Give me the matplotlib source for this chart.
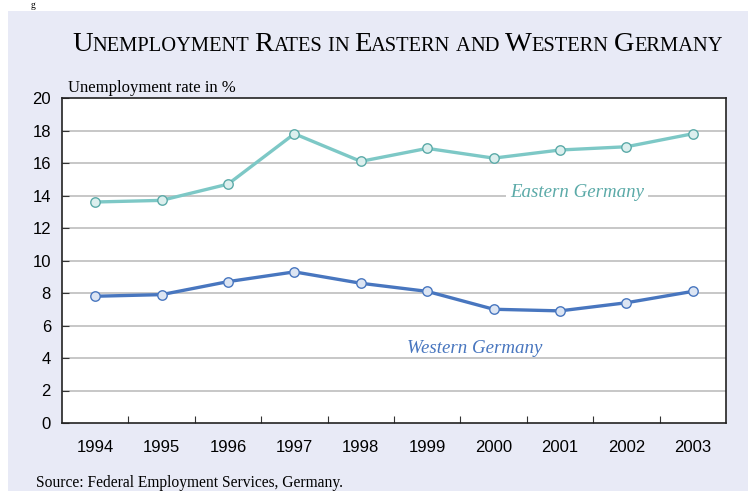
import matplotlib
matplotlib.use("Agg")
import matplotlib.pyplot as plt
from matplotlib.patches import Rectangle

years = ["1994", "1995", "1996", "1997", "1998", "1999", "2000", "2001", "2002", "2003"]
eastern = [13.6, 13.7, 14.7, 17.8, 16.1, 16.9, 16.3, 16.8, 17.0, 17.8]
western = [7.8, 7.9, 8.7, 9.3, 8.6, 8.1, 7.0, 6.9, 7.4, 8.1]
yticks = [0, 2, 4, 6, 8, 10, 12, 14, 16, 18, 20]

W, H = 748, 491
fig = plt.figure(figsize=(W / 100, H / 100), dpi=100)
fig.patch.set_facecolor("white")
bg = "#E8EAF6"
fig.patches.append(Rectangle((8 / W, 0), 1, 1 - 11 / H, transform=fig.transFigure,
                             facecolor=bg, edgecolor="none", zorder=-10))
fig.text(31 / W, 1 - 8 / H, "g", fontsize=7, family="Liberation Serif", va="baseline", ha="left")

ax = fig.add_axes([62 / W, 1 - 423 / H, 664 / W, 325 / H])
ax.set_facecolor("white")
x = list(range(len(years)))

ax.plot(x, eastern, color="#7DC8C6", lw=2.4, marker="o", ms=6.8,
        mfc="#DCEFEE", mec="#5BAAA8", mew=1.0, zorder=4, clip_on=False)
ax.plot(x, western, color="#4876BF", lw=2.4, marker="o", ms=6.8,
        mfc="#DCE5F3", mec="#4876BF", mew=1.0, zorder=4, clip_on=False)

ax.set_xlim(-0.5, len(years) - 0.5)
ax.set_ylim(0, 20)
ax.set_yticks(yticks)
ax.set_yticklabels([str(v) for v in yticks], family="Liberation Sans", fontsize=12)
ax.set_xticks(x)
ax.set_xticklabels(years, family="Liberation Sans", fontsize=12)
ax.tick_params(axis="x", length=0, pad=12)
ax.set_xticks([i + 0.5 for i in x[:-1]], minor=True)
ax.tick_params(axis="x", which="minor", direction="in", length=5, width=0.8, color="#333333")
ax.tick_params(axis="y", direction="in", length=5, width=0.8, pad=8, color="#333333")
for yv in yticks[1:-1]:
    ax.axhline(yv, color="#BDBDBD", lw=1.2, zorder=1)
for s in ax.spines.values():
    s.set_linewidth(1.2)
    s.set_color("#222222")

ax.text(7.26, 14.2, "Eastern Germany", color="#5BAAA8", fontsize=13.6, style="italic",
        family="Liberation Serif", ha="center", va="center", zorder=3,
        bbox=dict(facecolor="white", edgecolor="none", pad=3))
ax.text(5.72, 4.6, "Western Germany", color="#4876BF", fontsize=13.6, style="italic",
        family="Liberation Serif", ha="center", va="center", zorder=3)

fig.text(68 / W, 1 - 92 / H, "Unemployment rate in %", family="Liberation Serif",
         fontsize=12, va="baseline", ha="left")
fig.text(36 / W, 1 - 487 / H, "Source: Federal Employment Services, Germany.",
         family="Liberation Serif", fontsize=11.2, va="baseline", ha="left")

# small-caps title
words = "Unemployment Rates in Eastern and Western Germany".split()
big, small = 20.5, 14.8
fig.canvas.draw()
r = fig.canvas.get_renderer()
xpos = 72
base_y = 1 - 51 / H
for wi, w in enumerate(words):
    pieces = []
    first = w[0]
    rest = w[1:]
    if first.isupper():
        pieces.append((first, big))
    else:
        pieces.append((first.upper(), small))
    if rest:
        pieces.append((rest.upper(), small))
    for txt, fs in pieces:
        t = fig.text(xpos / W, base_y, txt, family="Liberation Serif", fontsize=fs,
                     va="baseline", ha="left")
        bb = t.get_window_extent(renderer=r)
        xpos += bb.width
    xpos += 5
fig.savefig("out.png", dpi=100, facecolor=fig.get_facecolor())
